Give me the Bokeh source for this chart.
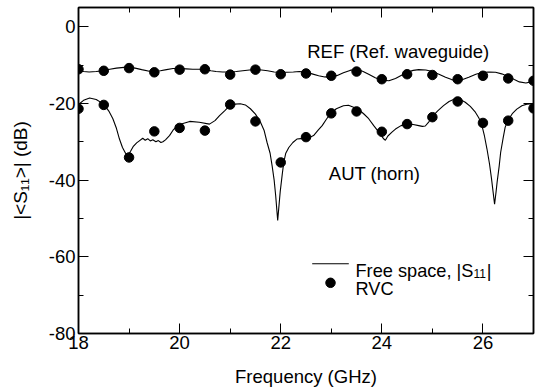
from bokeh.plotting import figure
from bokeh.models import FixedTicker, LinearAxis, Label, Range1d, CustomJSTickFormatter
from bokeh.embed import file_html
from bokeh.resources import INLINE

# ---------------- data ----------------
rvc_freq = [18.0, 18.5, 19.0, 19.5, 20.0, 20.5, 21.0, 21.5, 22.0, 22.5,
            23.0, 23.5, 24.0, 24.5, 25.0, 25.5, 26.0, 26.5, 27.0]
ref_rvc_db = [-11.1, -11.5, -10.8, -11.9, -11.2, -11.1, -12.5, -11.2, -12.4, -12.2,
              -12.8, -11.7, -13.7, -12.4, -12.6, -13.7, -12.8, -13.5, -14.1]
aut_rvc_db = [-21.4, -20.4, -34.1, -27.3, -26.4, -27.1, -20.3, -24.7, -35.4, -28.8,
              -22.6, -22.1, -27.4, -25.4, -23.6, -19.5, -25.1, -24.5, -21.3]

ref_line_freq = [18.00, 18.10, 18.21, 18.35, 18.50, 18.62, 18.75, 18.90, 19.00, 19.12,
                 19.25, 19.40, 19.50, 19.62, 19.74, 19.87, 20.00, 20.13, 20.26, 20.40,
                 20.50, 20.62, 20.72, 20.85, 21.00, 21.12, 21.25, 21.38, 21.50, 21.62,
                 21.74, 21.87, 22.00, 22.12, 22.25, 22.37, 22.49, 22.62, 22.75, 22.87,
                 23.00, 23.12, 23.24, 23.37, 23.49, 23.62, 23.74, 23.87, 23.99, 24.14,
                 24.27, 24.40, 24.50, 24.62, 24.73, 24.87, 25.00, 25.13, 25.26, 25.38,
                 25.49, 25.60, 25.72, 25.86, 26.00, 26.12, 26.25, 26.37, 26.50, 26.62,
                 26.72, 26.85, 26.95, 27.00]
ref_line_db = [-11.5, -11.7, -11.8, -11.7, -11.5, -11.1, -10.8, -10.6, -10.6, -10.8,
               -11.2, -11.6, -11.7, -11.5, -11.2, -10.9, -10.9, -11.0, -11.1, -11.1,
               -11.2, -11.5, -11.7, -11.8, -11.8, -11.7, -11.5, -11.3, -11.2, -11.3,
               -11.5, -11.8, -11.9, -11.9, -11.8, -11.7, -11.8, -12.3, -12.8, -13.1,
               -13.2, -12.7, -12.0, -11.4, -11.1, -11.6, -12.4, -13.3, -13.9, -14.1,
               -13.5, -12.6, -11.9, -11.4, -11.2, -11.3, -11.7, -12.4, -13.2, -13.8,
               -14.1, -13.8, -13.2, -12.4, -11.9, -11.8, -11.9, -12.3, -13.0, -13.8,
               -14.4, -14.7, -14.4, -14.1]

aut_line_freq = [18.00, 18.10, 18.22, 18.35, 18.50, 18.60, 18.68, 18.75, 18.81, 18.87,
                 18.93, 18.98, 19.03, 19.08, 19.15, 19.21, 19.27, 19.32, 19.37, 19.42,
                 19.47, 19.53, 19.58, 19.63, 19.67, 19.72, 19.80, 19.87, 19.93, 20.05,
                 20.20, 20.39, 20.59, 20.70, 20.79, 20.90, 20.99, 21.10, 21.20, 21.30,
                 21.40, 21.50, 21.60, 21.67, 21.73, 21.79, 21.83, 21.87, 21.90, 21.94,
                 21.97, 21.99, 22.03, 22.06, 22.10, 22.16, 22.24, 22.32, 22.40, 22.49,
                 22.57, 22.65, 22.74, 22.82, 22.90, 22.98, 23.10, 23.24, 23.34, 23.44,
                 23.54, 23.64, 23.74, 23.84, 23.94, 24.04, 24.07, 24.12, 24.20, 24.27,
                 24.38, 24.50, 24.62, 24.73, 24.80, 24.86, 24.93, 24.99, 25.10, 25.22,
                 25.33, 25.45, 25.55, 25.65, 25.75, 25.85, 25.92, 25.98, 26.03, 26.08,
                 26.13, 26.17, 26.20, 26.23, 26.26, 26.28, 26.32, 26.35, 26.40, 26.44,
                 26.50, 26.58, 26.67, 26.77, 26.87, 27.00]
aut_line_db = [-20.3, -19.2, -18.6, -19.0, -20.2, -22.0, -24.0, -26.5, -29.3, -31.5,
               -33.0, -33.6, -32.5, -31.3, -30.3, -29.7, -29.1, -29.6, -29.2, -29.8,
               -29.5, -30.0, -29.7, -30.2, -30.0, -29.5, -28.4, -27.0, -26.2, -25.3,
               -24.7, -24.9, -25.4, -24.5, -23.2, -21.8, -20.6, -20.2, -20.1, -20.4,
               -21.4, -22.8, -24.9, -27.0, -30.2, -33.0, -36.3, -40.0, -44.0, -50.5,
               -46.0, -43.0, -38.5, -35.4, -33.0, -31.5, -30.2, -29.3, -29.2, -28.8,
               -28.9, -28.4, -27.0, -25.8, -24.2, -22.7, -21.4, -20.6, -20.5, -21.0,
               -21.6, -22.7, -24.0, -25.8, -27.5, -29.3, -29.6, -28.5, -27.5, -26.7,
               -25.8, -25.4, -25.5, -25.8, -26.0, -25.9, -24.8, -23.6, -22.0, -20.6,
               -19.5, -18.8, -19.0, -19.7, -20.8, -22.3, -23.8, -25.8, -28.5, -31.9,
               -35.8, -39.7, -43.0, -46.3, -43.0, -40.6, -36.5, -32.8, -29.0, -26.2,
               -24.3, -22.7, -21.5, -20.6, -20.2, -20.1]

x_major_ticks = [18, 20, 22, 24, 26]
x_tick_labels = ["18", "20", "22", "24", "26"]
x_minor_ticks = [19, 21, 23, 25, 27]
y_major_ticks = [-80, -60, -40, -20, 0]
y_tick_labels = ["-80", "-60", "-40", "-20", "0"]
y_minor_ticks = [-70, -50, -30, -10]
x_limits = (18, 27)
y_limits = (-80, 5)

# ---------------- layout ----------------
W, H = 538, 389
FX0, FX1, FY0, FY1 = 78, 533, 7, 333
FONT = "Liberation Sans"


def px2x(px):
    return x_limits[0] + (px - FX0) * (x_limits[1] - x_limits[0]) / (FX1 - FX0)


def py2y(py):
    return y_limits[1] - (py - FY0) * (y_limits[1] - y_limits[0]) / (FY1 - FY0)


p = figure(width=W, height=H, output_backend="svg", toolbar_location=None,
           x_range=Range1d(*x_limits), y_range=Range1d(*y_limits),
           min_border_left=FX0, min_border_right=W - FX1,
           min_border_top=FY0, min_border_bottom=H - FY1)
p.xgrid.visible = False
p.ygrid.visible = False
p.outline_line_color = "black"
p.outline_line_width = 1.5
p.background_fill_color = "white"
p.border_fill_color = "white"


def style_axis(ax, ticks, minor, labels):
    ax.ticker = FixedTicker(ticks=ticks, minor_ticks=minor)
    ax.axis_line_color = "black"
    ax.axis_line_width = 1.5
    ax.major_tick_line_color = "black"
    ax.minor_tick_line_color = "black"
    ax.major_tick_line_width = 1
    ax.minor_tick_line_width = 1
    ax.major_tick_in = 10
    ax.major_tick_out = 0
    ax.minor_tick_in = 5
    ax.minor_tick_out = 0
    if labels is not None:
        ax.major_label_overrides = dict(zip(ticks, labels))
        ax.major_label_text_font = FONT
        ax.major_label_text_font_size = "18.5px"
        ax.major_label_text_color = "black"
        ax.major_label_standoff = 2
    else:
        ax.formatter = CustomJSTickFormatter(code="return ''")
        ax.major_label_text_font_size = "0px"
        ax.major_label_standoff = 0


xb = p.xaxis[0]
style_axis(xb, x_major_ticks, x_minor_ticks, x_tick_labels)
xb.axis_label = "Frequency (GHz)"
xb.axis_label_text_font = FONT
xb.axis_label_text_font_size = "18.5px"
xb.axis_label_text_font_style = "normal"
xb.axis_label_text_color = "black"
xb.axis_label_standoff = 14

yl = p.yaxis[0]
style_axis(yl, y_major_ticks, y_minor_ticks, y_tick_labels)
yl.major_label_standoff = 3
yl.axis_label = "|<S\u2081\u2081>| (dB)"
yl.axis_label_text_font = FONT
yl.axis_label_text_font_size = "19px"
yl.axis_label_text_font_style = "normal"
yl.axis_label_text_color = "black"
yl.axis_label_standoff = 15

xt = LinearAxis()
style_axis(xt, x_major_ticks, x_minor_ticks, None)
p.add_layout(xt, "above")
yr = LinearAxis()
style_axis(yr, y_major_ticks, y_minor_ticks, None)
p.add_layout(yr, "right")

# ---------------- data marks ----------------
p.line(ref_line_freq, ref_line_db, line_color="black", line_width=1.1)
p.line(aut_line_freq, aut_line_db, line_color="black", line_width=1.1)
p.scatter(rvc_freq, ref_rvc_db, marker="circle", size=9.5, fill_color="black", line_color="black")
p.scatter(rvc_freq, aut_rvc_db, marker="circle", size=9.5, fill_color="black", line_color="black")


def add_label(text, px, py, size):
    p.add_layout(Label(x=px2x(px), y=py2y(py), text=text, text_font=FONT,
                       text_font_size=size, text_color="black", text_align="left",
                       text_baseline="alphabetic"))


# in-plot annotations
add_label("REF (Ref. waveguide)", 306.7, 50.7, "18.5px")
add_label("AUT (horn)", 328.3, 173.3, "18.5px")

# legend
p.line([px2x(311.7), px2x(348.3)], [py2y(263.3), py2y(263.3)], line_color="black", line_width=1.1)
p.scatter([px2x(330)], [py2y(282.3)], marker="circle", size=9.5, fill_color="black", line_color="black")
add_label("Free space, |S", 355, 270, "18.2px")
add_label("11", 355 + 6.485 * 18.2, 273.3, "12px")
add_label("|", 355 + 6.485 * 18.2 + 13.3, 270, "18.2px")
add_label("RVC", 355, 288.3, "18.2px")

open("out.html", "w").write(file_html(p, INLINE))
